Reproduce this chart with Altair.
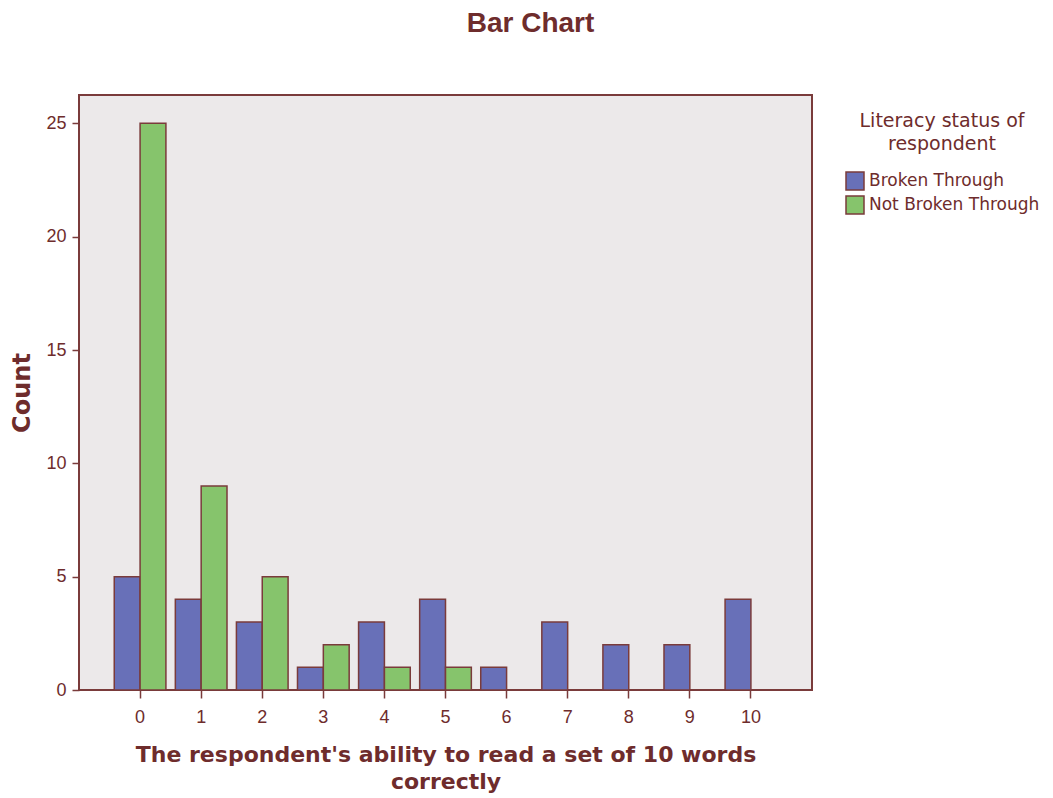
import altair as alt
import pandas as pd

scores = [0, 1, 2, 3, 4, 5, 6, 7, 8, 9, 10]
broken = [5, 4, 3, 1, 3, 4, 1, 3, 2, 2, 4]
not_broken = [25, 9, 5, 2, 1, 1, 0, 0, 0, 0, 0]
groups = ["Broken Through", "Not Broken Through"]
colors = ["#6870B8", "#86C46C"]

rows = []
for s, b, n in zip(scores, broken, not_broken):
    rows.append({"score": s, "status": groups[0], "count": b})
    rows.append({"score": s, "status": groups[1], "count": n})
df = pd.DataFrame(rows)

TXT = "#6E2C2C"
BRD = "#7A3B3B"

chart = (
    alt.Chart(df)
    .transform_filter("datum.count > 0")
    .mark_bar(stroke=BRD, strokeWidth=1.5)
    .encode(
        x=alt.X(
            "score:O",
            scale=alt.Scale(domain=scores, paddingInner=0.154, paddingOuter=0.577),
            axis=alt.Axis(
                title=["The respondent's ability to read a set of 10 words", "correctly"],
                labelAngle=0,
                labelFont="Liberation Sans",
                labelFontSize=18,
                labelColor=TXT,
                labelPadding=10,
                tickColor=BRD,
                tickSize=8,
                tickWidth=1.5,
                domain=False,
                titleFont="DejaVu Sans",
                titleFontSize=22,
                titleFontWeight="bold",
                titleColor=TXT,
                titleLineHeight=27,
                titlePadding=18,
            ),
        ),
        xOffset=alt.XOffset("status:N", sort=groups),
        y=alt.Y(
            "count:Q",
            scale=alt.Scale(domain=[0, 26.25], nice=False),
            axis=alt.Axis(
                title="Count",
                values=[0, 5, 10, 15, 20, 25],
                grid=False,
                labelFont="Liberation Sans",
                labelFontSize=18,
                labelColor=TXT,
                labelPadding=6,
                tickColor=BRD,
                tickSize=7,
                tickWidth=1.5,
                domain=False,
                titleFont="DejaVu Sans",
                titleFontSize=24,
                titleFontWeight="bold",
                titleColor=TXT,
                titlePadding=11,
            ),
        ),
        fill=alt.Fill(
            "status:N",
            scale=alt.Scale(domain=groups, range=colors),
            legend=alt.Legend(
                title=["Literacy status of", "respondent"],
                orient="none",
                legendX=766,
                legendY=17,
                titleFont="DejaVu Sans",
                titleFontSize=19,
                titleFontWeight="normal",
                titleColor=TXT,
                titleAnchor="middle",
                titleAlign="center",
                titleLineHeight=23,
                titlePadding=17,
                labelFont="DejaVu Sans",
                labelFontSize=17,
                labelColor=TXT,
                labelOffset=4,
                labelLimit=0,
                symbolType="square",
                symbolSize=324,
                symbolStrokeColor=BRD,
                symbolStrokeWidth=1.5,
                symbolOpacity=1,
                rowPadding=0,
            ),
        ),
    )
    .properties(
        width=733,
        height=595,
        background="white",
        autosize=alt.AutoSizeParams(type="none"),
        padding={"left": 71, "top": 87, "right": 232, "bottom": 103},
        title=alt.TitleParams(
            "Bar Chart",
            font="Liberation Sans",
            fontSize=28,
            fontWeight="bold",
            color=TXT,
            anchor="middle",
            dx=85,
            offset=57,
        ),
    )
    .configure_view(fill="#ECE9EA", stroke=BRD, strokeWidth=2)
)

chart.save("out.html", embed_options={"renderer": "svg", "actions": False})
